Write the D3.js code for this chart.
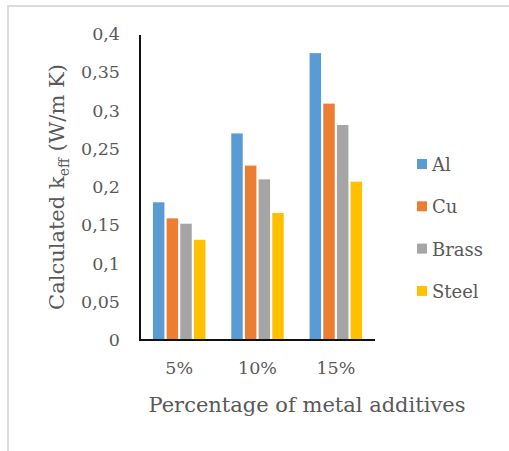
<!DOCTYPE html>
<html>
<head>
<meta charset="utf-8">
<script src="https://cdn.jsdelivr.net/npm/d3@7"></script>
<style>
  html, body { margin: 0; padding: 0; background: #fff; }
  svg { display: block; }
</style>
</head>
<body>
<svg id="chart" width="509" height="451"></svg>
<script>
// Additive percentages (x categories)
const categories = ["5%", "10%", "15%"];
// Metal additives (series)
const seriesNames = ["Al", "Cu", "Brass", "Steel"];
const seriesColors = ["#5B9BD5", "#ED7D31", "#A5A5A5", "#FFC000"];
// Calculated k_eff (W/m K) per series, in category order
const alValues = [0.180, 0.270, 0.375];
const cuValues = [0.159, 0.228, 0.309];
const brassValues = [0.152, 0.210, 0.281];
const steelValues = [0.131, 0.166, 0.207];
// y tick values and labels (decimal comma)
const yTicks = [0, 0.05, 0.1, 0.15, 0.2, 0.25, 0.3, 0.35, 0.4];
const yTickLabels = ["0", "0,05", "0,1", "0,15", "0,2", "0,25", "0,3", "0,35", "0,4"];

const seriesValues = [alValues, cuValues, brassValues, steelValues];
const FONT = "DejaVu Serif";
const TEXT_COLOR = "#595959";

const svg = d3.select("#chart");

// outer frame
svg.append("rect")
  .attr("x", 8).attr("y", 6)
  .attr("width", 520).attr("height", 470)
  .attr("fill", "none")
  .attr("stroke", "#dcdcdc")
  .attr("stroke-width", 2);

const plot = { left: 140, right: 375, top: 34, bottom: 340 };

const x0 = d3.scaleBand()
  .domain(categories)
  .range([plot.left, plot.right])
  .paddingInner(0.33)
  .paddingOuter(0.165);

const x1 = d3.scaleBand()
  .domain(seriesNames)
  .range([0, x0.bandwidth()])
  .paddingInner(0.16);

const y = d3.scaleLinear()
  .domain([0, 0.4])
  .range([plot.bottom, plot.top]);

// bars
const groups = svg.append("g")
  .selectAll("g")
  .data(categories)
  .join("g")
  .attr("transform", d => `translate(${x0(d)},0)`);

groups.selectAll("rect")
  .data((c, ci) => seriesNames.map((s, si) => ({ s, si, v: seriesValues[si][ci] })))
  .join("rect")
  .attr("x", d => x1(d.s))
  .attr("width", x1.bandwidth())
  .attr("y", d => y(d.v))
  .attr("height", d => y(0) - y(d.v))
  .attr("fill", d => seriesColors[d.si]);

// y axis
const yAxis = d3.axisLeft(y)
  .tickValues(yTicks)
  .tickFormat((d, i) => yTickLabels[i])
  .tickSize(0)
  .tickPadding(20);

const yg = svg.append("g")
  .attr("transform", `translate(${plot.left},0)`)
  .call(yAxis);
yg.select(".domain").remove();
yg.selectAll("text")
  .style("font-family", FONT)
  .style("font-size", "17.5px")
  .attr("fill", TEXT_COLOR);

// x axis
const xAxis = d3.axisBottom(x0).tickSize(0).tickPadding(22);
const xg = svg.append("g")
  .attr("transform", `translate(0,${plot.bottom})`)
  .call(xAxis);
xg.select(".domain").remove();
xg.selectAll("text")
  .style("font-family", FONT)
  .style("font-size", "17.5px")
  .attr("fill", TEXT_COLOR);

// axis lines
svg.append("line")
  .attr("x1", plot.left).attr("x2", plot.left)
  .attr("y1", plot.top + 1).attr("y2", plot.bottom + 1)
  .attr("stroke", "#111").attr("stroke-width", 2);
svg.append("line")
  .attr("x1", plot.left - 1).attr("x2", plot.right)
  .attr("y1", plot.bottom).attr("y2", plot.bottom)
  .attr("stroke", "#111").attr("stroke-width", 2);

// y axis title
const yTitle = svg.append("text")
  .attr("transform", `translate(64,${(plot.top + plot.bottom) / 2}) rotate(-90)`)
  .attr("text-anchor", "middle")
  .style("font-family", FONT)
  .style("font-size", "21px")
  .attr("fill", TEXT_COLOR);
yTitle.append("tspan").text("Calculated k");
yTitle.append("tspan").attr("dy", 5).style("font-size", "14px").text("eff");
yTitle.append("tspan").attr("dy", -5).text(" (W/m K)");

// x axis title
svg.append("text")
  .attr("x", 307)
  .attr("y", 412)
  .attr("text-anchor", "middle")
  .style("font-family", FONT)
  .style("font-size", "21px")
  .attr("fill", TEXT_COLOR)
  .text("Percentage of metal additives");

// legend
const legend = svg.append("g")
  .selectAll("g")
  .data(seriesNames)
  .join("g")
  .attr("transform", (d, i) => `translate(417,${164 + i * 42.3})`);
legend.append("rect")
  .attr("x", 0).attr("y", -5)
  .attr("width", 10).attr("height", 10)
  .attr("fill", (d, i) => seriesColors[i]);
legend.append("text")
  .attr("x", 15)
  .attr("y", 7)
  .style("font-family", FONT)
  .style("font-size", "18px")
  .attr("fill", TEXT_COLOR)
  .text(d => d);
</script>
</body>
</html>
